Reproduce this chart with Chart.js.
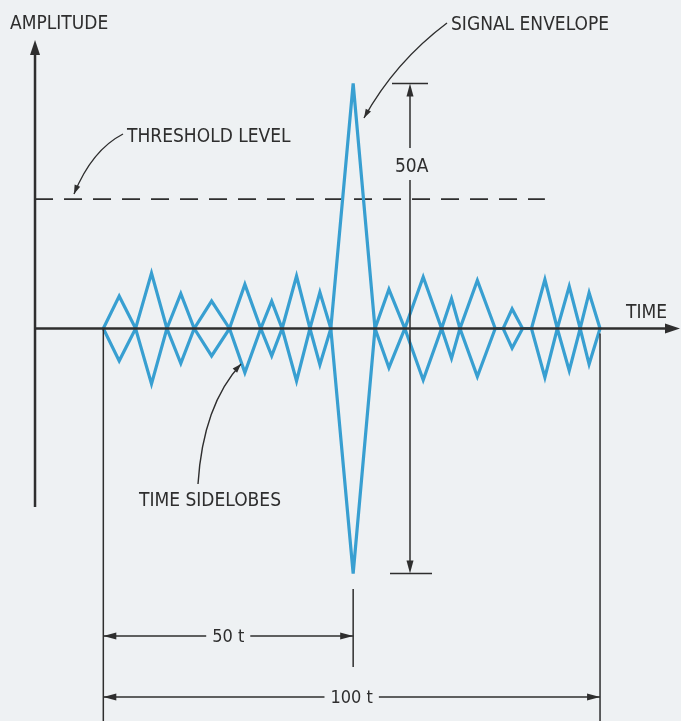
<!DOCTYPE html>
<html>
<head>
<meta charset="utf-8">
<script src="https://cdn.jsdelivr.net/npm/chart.js@4"></script>
<style>
  html, body { margin: 0; padding: 0; background: #eef1f3; }
  canvas { display: block; }
</style>
</head>
<body>
<canvas id="chart" width="681" height="721"></canvas>
<script>
// zero crossings of the envelope (time, in units of t)
const nodeTimes = [0, 6.5, 12.8, 18.3, 25.4, 31.7, 36.0, 41.6, 45.8, 54.7, 60.7, 68.1, 71.8, 78.9, 80.5, 84.4, 86.2, 91.4, 96.0, 100];
// tip of each lobe: time (t) and amplitude (A)
const peakTimes = [3.2, 9.7, 15.6, 21.8, 28.5, 33.9, 38.9, 43.6, 50.3, 57.5, 64.4, 70.1, 75.3, 82.3, 88.9, 93.8, 97.8];
const peakAmps = [6.6, 11.3, 7.1, 5.6, 9.0, 5.6, 10.7, 7.4, 50, 8.0, 10.5, 6.1, 9.8, 4.0, 10.0, 8.6, 7.3];
// threshold level (A) and the time span of its dashed line
const thresholdLevel = 26.4;
const thresholdSpan = [-13.75, 88.9];
// dimension values
const mainPeak = 50;
const halfTime = 50.3;
const fullTime = 100;

const BLUE = '#389fd1';
const INK = '#2e2e2e';
const FONT = '"DejaVu Sans Condensed", "DejaVu Sans", sans-serif';

//Build the upper envelope by merging crossings and tips, sorted by time
let upper = nodeTimes.map(t => ({ x: t, y: 0 }));
peakTimes.forEach((t, i) => upper.push({ x: t, y: peakAmps[i] }));
upper.sort((a, b) => a.x - b.x);
//The lower envelope is the mirror image
const lower = upper.map(p => ({ x: p.x, y: -p.y }));

const threshold = thresholdSpan.map(t => ({ x: t, y: thresholdLevel }));

function arrowHead(ctx, tx, ty, angle, len, half) {
  ctx.save();
  ctx.translate(tx, ty);
  ctx.rotate(angle);
  ctx.beginPath();
  ctx.moveTo(0, 0);
  ctx.lineTo(-len, -half);
  ctx.lineTo(-len, half);
  ctx.closePath();
  ctx.fill();
  ctx.restore();
}

function line(ctx, x1, y1, x2, y2) {
  ctx.beginPath();
  ctx.moveTo(x1, y1);
  ctx.lineTo(x2, y2);
  ctx.stroke();
}

//Curved leader from a label to the thing it points at
function leader(ctx, x1, y1, cx, cy, x2, y2) {
  ctx.lineWidth = 1.4;
  ctx.beginPath();
  ctx.moveTo(x1, y1);
  ctx.quadraticCurveTo(cx, cy, x2, y2);
  ctx.stroke();
  arrowHead(ctx, x2, y2, Math.atan2(y2 - cy, x2 - cx), 9, 3);
}

//Horizontal dimension with the label in a gap
function hDim(ctx, xa, xb, y, label) {
  ctx.font = '18px ' + FONT;
  const w = ctx.measureText(label).width;
  const mid = (xa + xb) / 2;
  ctx.lineWidth = 1.5;
  line(ctx, xa, y, mid - w / 2 - 6, y);
  line(ctx, mid + w / 2 + 6, y, xb, y);
  arrowHead(ctx, xa, y, Math.PI, 13, 3.5);
  arrowHead(ctx, xb, y, 0, 13, 3.5);
  ctx.textAlign = 'center';
  ctx.textBaseline = 'middle';
  ctx.fillText(label, mid, y + 1);
}

const annotations = {
  id: 'annotations',
  afterDatasetsDraw(chart) {
    const ctx = chart.ctx;
    const sx = v => chart.scales.x.getPixelForValue(v);
    const sy = v => chart.scales.y.getPixelForValue(v);
    const x0 = sx(0), y0 = sy(0);
    const axisX = sx(thresholdSpan[0]);

    ctx.save();
    ctx.strokeStyle = INK;
    ctx.fillStyle = INK;
    ctx.lineCap = 'butt';

    //Axes with arrows
    ctx.lineWidth = 2.5;
    line(ctx, axisX, 507, axisX, 52);
    arrowHead(ctx, axisX, 40, -Math.PI / 2, 15, 5);
    line(ctx, axisX, y0, 668, y0);
    arrowHead(ctx, 680, y0, 0, 15, 5);

    //Extension lines for the time dimensions
    ctx.lineWidth = 1.5;
    line(ctx, x0, y0, x0, 721);
    line(ctx, sx(fullTime), y0 + 5, sx(fullTime), 721);
    line(ctx, sx(halfTime), 589, sx(halfTime), 667);

    hDim(ctx, x0, sx(halfTime), 636, '50 t');
    hDim(ctx, x0, sx(fullTime), 697, '100 t');

    //50A dimension on the main lobe
    const dx = 410, yt = sy(mainPeak), yb = sy(-mainPeak);
    ctx.lineWidth = 1.5;
    line(ctx, 392, yt, 428, yt);
    line(ctx, 390, yb, 432, yb);
    line(ctx, dx, yt + 6, dx, 148);
    line(ctx, dx, 180, dx, yb - 6);
    arrowHead(ctx, dx, yt, -Math.PI / 2, 13, 3.5);
    arrowHead(ctx, dx, yb, Math.PI / 2, 13, 3.5);

    //Labels
    ctx.font = '19px ' + FONT;
    ctx.textAlign = 'left';
    ctx.textBaseline = 'alphabetic';
    ctx.fillText('AMPLITUDE', 10, 29);
    ctx.fillText('THRESHOLD LEVEL', 127, 142);
    ctx.fillText('SIGNAL ENVELOPE', 451, 30);
    ctx.fillText('TIME', 626, 318);
    ctx.fillText('TIME SIDELOBES', 139, 506);
    ctx.fillText('50A', 395, 172);

    //Leaders
    leader(ctx, 123, 134, 92, 150, 74, 194);
    leader(ctx, 447, 23, 395, 62, 364, 118);
    leader(ctx, 198, 484, 203, 405, 241, 364);

    ctx.restore();
  }
};

new Chart(document.getElementById('chart'), {
  type: 'line',
  data: {
    datasets: [
      { data: upper, borderColor: BLUE, borderWidth: 3.2, pointRadius: 0, tension: 0, borderJoinStyle: 'miter' },
      { data: lower, borderColor: BLUE, borderWidth: 3.2, pointRadius: 0, tension: 0, borderJoinStyle: 'miter' },
      { data: threshold, borderColor: INK, borderWidth: 1.8, borderDash: [18, 11], pointRadius: 0 }
    ]
  },
  options: {
    responsive: false,
    animation: false,
    devicePixelRatio: 1,
    layout: { padding: 0 },
    plugins: { legend: { display: false }, tooltip: { enabled: false } },
    scales: {
      x: { type: 'linear', display: false, min: -20.8, max: 116.3 },
      y: { type: 'linear', display: false, min: -80.1, max: 67.04 }
    }
  },
  plugins: [annotations]
});
</script>
</body>
</html>
